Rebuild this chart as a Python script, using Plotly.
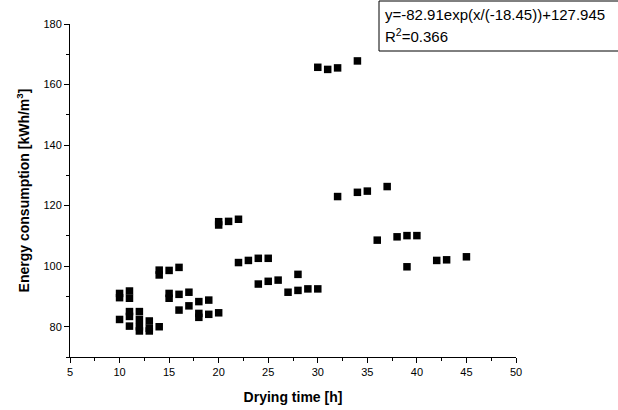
import plotly.graph_objects as go

drying_time = [10, 10, 10,
               11, 11, 11, 11, 11,
               12, 12, 12, 12,
               13, 13, 13,
               14, 14, 14,
               15, 15, 15,
               16, 16, 16,
               17, 17,
               18, 18, 18,
               19, 19,
               20, 20, 20,
               21,
               22, 22,
               23,
               24, 24,
               25, 25,
               26, 27,
               28, 28,
               29,
               30, 30,
               31,
               32, 32,
               34, 34,
               35, 36, 37, 38,
               39, 39,
               40, 42, 43, 45]
energy = [91.0, 89.6, 82.4,
          91.8, 89.4, 85.0, 83.4, 80.2,
          85.0, 82.4, 80.0, 78.6,
          81.9, 79.5, 78.6,
          98.7, 97.1, 80.0,
          98.6, 91.0, 89.4,
          99.6, 90.7, 85.5,
          91.4, 86.9,
          88.3, 84.4, 83.1,
          88.8, 84.1,
          114.7, 113.6, 84.6,
          114.8,
          115.5, 101.2,
          101.9,
          102.6, 94.1,
          102.6, 95.0,
          95.4, 91.4,
          97.3, 92.0,
          92.5,
          165.7, 92.5,
          165.0,
          165.5, 123.0,
          167.8, 124.4,
          124.8, 108.6, 126.3, 109.7,
          110.1, 99.8,
          110.1, 101.9, 102.1, 103.1]

x_ticks = [5, 10, 15, 20, 25, 30, 35, 40, 45, 50]
y_ticks = [80, 100, 120, 140, 160, 180]
fit_text = "y=-82.91exp(x/(-18.45))+127.945"
r2_text = "R<sup>2</sup>=0.366"

FONT = "Arial, Liberation Sans, sans-serif"

fig = go.Figure()
fig.add_trace(go.Scatter(
    x=drying_time, y=energy, mode="markers",
    marker=dict(symbol="square", size=7.5, color="black"),
    showlegend=False,
))

axis_common = dict(
    showline=True, linecolor="black", linewidth=1,
    ticks="outside", ticklen=5, tickcolor="black", tickwidth=1,
    showgrid=False, zeroline=False, mirror=False, automargin=False,
    tickfont=dict(family=FONT, size=11, color="black"),
    minor=dict(ticks="outside", ticklen=3, tickcolor="black", tickwidth=1),
)

fig.update_xaxes(
    range=[5, 50], tickvals=x_ticks, ticktext=[str(v) for v in x_ticks],
    title=dict(text="<b>Drying time [h]</b>", font=dict(family=FONT, size=14, color="black"), standoff=14),
    minor_dtick=2.5, **axis_common,
)
fig.update_yaxes(
    range=[70, 180], tickvals=y_ticks, ticktext=[str(v) for v in y_ticks],
    title=dict(text="<b>Energy consumption [kWh/m<sup>3</sup>]</b>", font=dict(family=FONT, size=14, color="black"), standoff=10),
    minor_dtick=10, **axis_common,
)

L, R, T, B = 70, 516, 24, 357
PW, PH = R - L, B - T

fig.add_shape(type="rect", xref="paper", yref="paper",
              x0=(379 - L) / PW, x1=1.3, y0=(B - 51) / PH, y1=(B - 1) / PH,
              line=dict(color="black", width=1), fillcolor="white", layer="above")
fig.add_annotation(xref="paper", yref="paper", x=(383 - L) / PW, y=(B - 14) / PH,
                   xanchor="left", yanchor="middle", showarrow=False,
                   text=fit_text, font=dict(family=FONT, size=15, color="black"))
fig.add_annotation(xref="paper", yref="paper", x=(383 - L) / PW, y=(B - 36) / PH,
                   xanchor="left", yanchor="middle", showarrow=False,
                   text=r2_text, font=dict(family=FONT, size=15, color="black"))

fig.update_layout(
    width=618, height=410,
    margin=dict(l=L, r=618 - R, t=T, b=410 - B, autoexpand=False),
    paper_bgcolor="white", plot_bgcolor="white",
    font=dict(family=FONT, color="black"),
)

fig.write_html("out.html", config={"displayModeBar": False},
               post_script="document.body.style.margin='0';")
